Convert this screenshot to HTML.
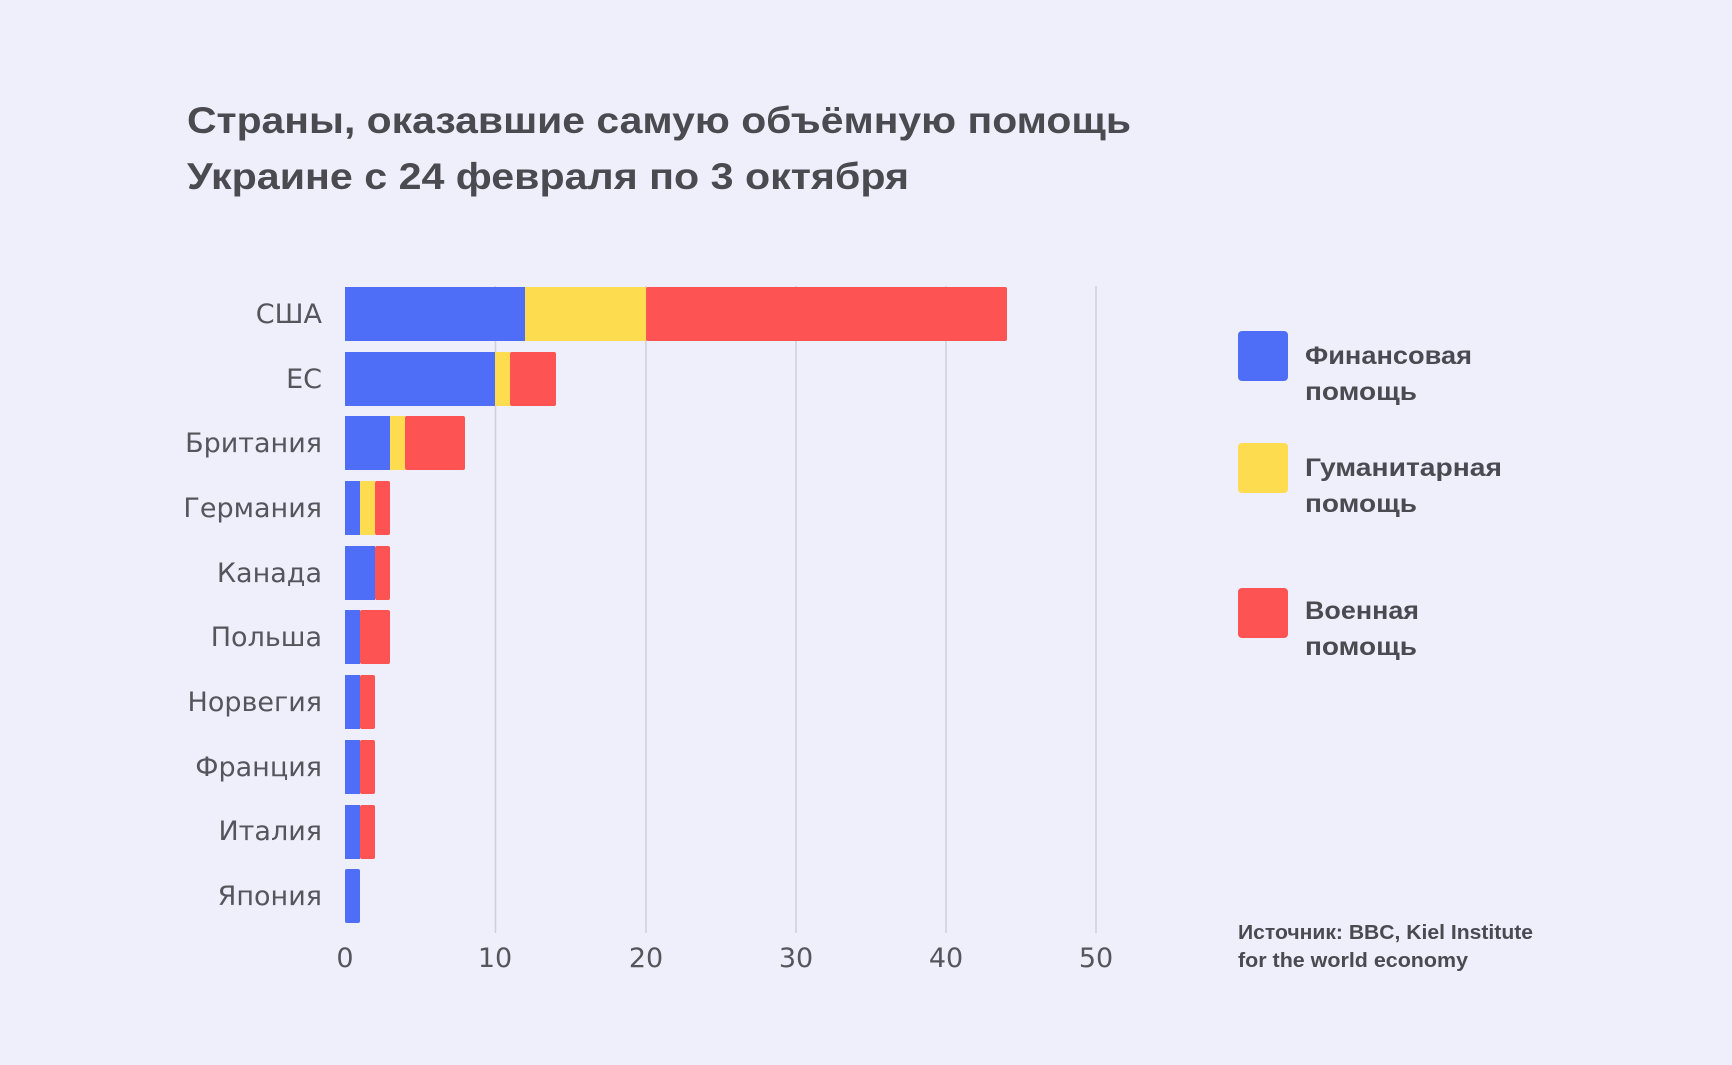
<!DOCTYPE html>
<html><head><meta charset="utf-8"><style>
html,body{margin:0;padding:0;background:#efeffb;}
svg{display:block}
</style></head><body>
<svg width="1732" height="1065" viewBox="0 0 1732 1065" xmlns="http://www.w3.org/2000/svg">
<rect width="1732" height="1065" fill="#efeffb"/>
<g font-family="Liberation Sans, DejaVu Sans, sans-serif" font-weight="bold" fill="#4a4a50" font-size="37">
<text x="187" y="133" textLength="944" lengthAdjust="spacingAndGlyphs">Страны, оказавшие самую объёмную помощь</text>
<text x="187" y="189" textLength="722" lengthAdjust="spacingAndGlyphs">Украине с 24 февраля по 3 октября</text>
</g>
<g stroke="#cfcfda" stroke-width="1.5">
<line x1="495.5" y1="286" x2="495.5" y2="933"/>
<line x1="646" y1="286" x2="646" y2="933"/>
<line x1="796" y1="286" x2="796" y2="933"/>
<line x1="946" y1="286" x2="946" y2="933"/>
<line x1="1096" y1="286" x2="1096" y2="933"/>
</g>
<g font-family="DejaVu Sans, Liberation Sans, sans-serif" font-size="27" fill="#55555c" text-anchor="middle">
<text x="345" y="967">0</text><text x="495" y="967">10</text><text x="646" y="967">20</text><text x="796" y="967">30</text><text x="946" y="967">40</text><text x="1096" y="967">50</text>
</g>
<g font-family="DejaVu Sans, Liberation Sans, sans-serif" font-size="27" fill="#55555c" text-anchor="end">
<text x="322" y="323">США</text>
<text x="322" y="388">ЕС</text>
<text x="322" y="452">Британия</text>
<text x="322" y="517">Германия</text>
<text x="322" y="582">Канада</text>
<text x="322" y="646">Польша</text>
<text x="322" y="711">Норвегия</text>
<text x="322" y="776">Франция</text>
<text x="322" y="840">Италия</text>
<text x="322" y="905">Япония</text>
</g>
<g>
<rect x="345" y="287" width="180" height="54" fill="#4f6ef7"/>
<rect x="525" y="287" width="121" height="54" fill="#fddc50"/>
<rect x="646" y="287" width="361" height="54" rx="2" fill="#fd5353"/>

<rect x="345" y="352" width="150" height="54" fill="#4f6ef7"/>
<rect x="495" y="352" width="15" height="54" fill="#fddc50"/>
<rect x="510" y="352" width="46" height="54" rx="2" fill="#fd5353"/>

<rect x="345" y="416" width="45" height="54" fill="#4f6ef7"/>
<rect x="390" y="416" width="15" height="54" fill="#fddc50"/>
<rect x="405" y="416" width="60" height="54" rx="2" fill="#fd5353"/>

<rect x="345" y="481" width="15" height="54" fill="#4f6ef7"/>
<rect x="360" y="481" width="15" height="54" fill="#fddc50"/>
<rect x="375" y="481" width="15" height="54" rx="2" fill="#fd5353"/>

<rect x="345" y="546" width="30" height="54" fill="#4f6ef7"/>
<rect x="375" y="546" width="15" height="54" rx="2" fill="#fd5353"/>

<rect x="345" y="610" width="15" height="54" fill="#4f6ef7"/>
<rect x="360" y="610" width="30" height="54" rx="2" fill="#fd5353"/>

<rect x="345" y="675" width="15" height="54" fill="#4f6ef7"/>
<rect x="360" y="675" width="15" height="54" rx="2" fill="#fd5353"/>

<rect x="345" y="740" width="15" height="54" fill="#4f6ef7"/>
<rect x="360" y="740" width="15" height="54" rx="2" fill="#fd5353"/>

<rect x="345" y="805" width="15" height="54" fill="#4f6ef7"/>
<rect x="360" y="805" width="15" height="54" rx="2" fill="#fd5353"/>

<rect x="345" y="869" width="15" height="54" rx="2" fill="#4f6ef7"/>
</g>
<rect x="1238" y="331" width="50" height="50" rx="4" fill="#4f6ef7"/>
<rect x="1238" y="443" width="50" height="50" rx="4" fill="#fddc50"/>
<rect x="1238" y="588" width="50" height="50" rx="4" fill="#fd5353"/>
<g font-family="Liberation Sans, DejaVu Sans, sans-serif" font-weight="bold" font-size="25" fill="#4a4a50">
<text x="1305" y="364" textLength="167" lengthAdjust="spacingAndGlyphs">Финансовая</text>
<text x="1305" y="400" textLength="112" lengthAdjust="spacingAndGlyphs">помощь</text>
<text x="1305" y="476" textLength="197" lengthAdjust="spacingAndGlyphs">Гуманитарная</text>
<text x="1305" y="512" textLength="112" lengthAdjust="spacingAndGlyphs">помощь</text>
<text x="1305" y="619" textLength="114" lengthAdjust="spacingAndGlyphs">Военная</text>
<text x="1305" y="655" textLength="112" lengthAdjust="spacingAndGlyphs">помощь</text>
</g>
<g font-family="Liberation Sans, DejaVu Sans, sans-serif" font-weight="bold" font-size="20" fill="#4a4a50">
<text x="1238" y="939" textLength="295" lengthAdjust="spacingAndGlyphs">Источник: BBC, Kiel Institute</text>
<text x="1238" y="967" textLength="230" lengthAdjust="spacingAndGlyphs">for the world economy</text>
</g>
</svg>
</body></html>
